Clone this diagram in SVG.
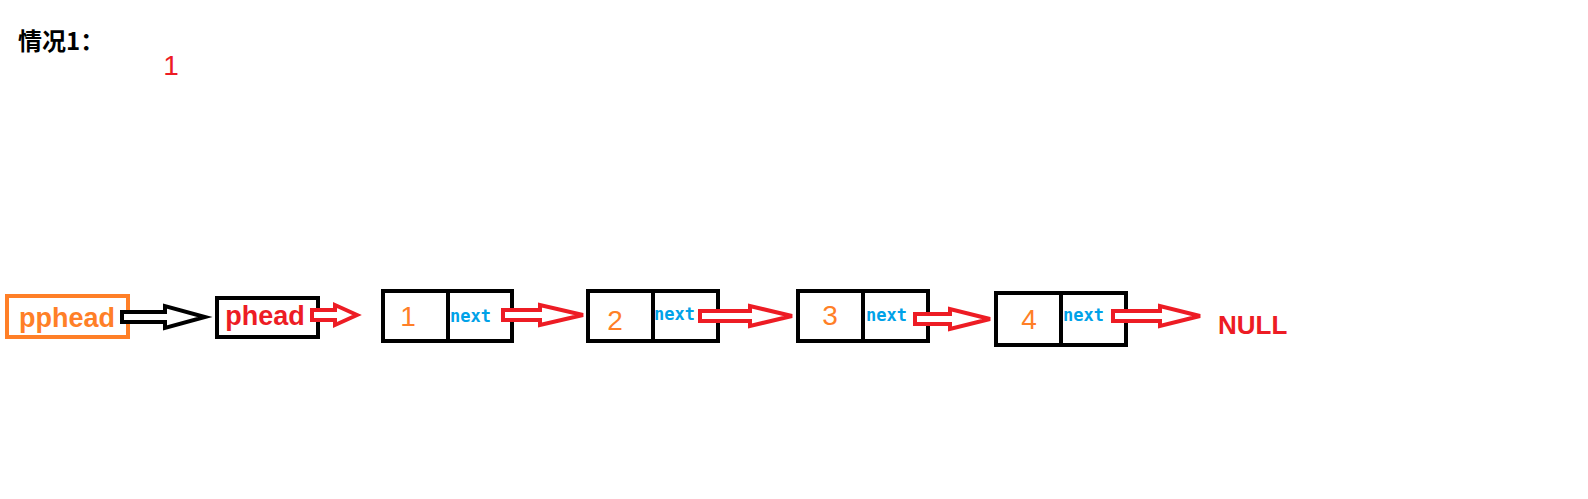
<svg xmlns="http://www.w3.org/2000/svg" width="1588" height="499" viewBox="0 0 1588 499">
<style>
.box{fill:none;stroke:#000;stroke-width:4}
.arr{fill:#fff;stroke:#ed1c24;stroke-width:4;stroke-linejoin:miter}
.num{fill:#ff7f27;font-family:"Liberation Sans",sans-serif;font-size:28px;text-anchor:middle}
.nx{fill:#00a2e8;font-family:"DejaVu Sans Mono",monospace;font-weight:bold;font-size:17px}
</style>
<rect width="1588" height="499" fill="#fff"/>
<text x="18" y="50" font-family="Noto Sans CJK SC,sans-serif" font-weight="bold" font-size="24" fill="#000">情况1：</text>
<text x="171" y="75" font-family="Liberation Sans,sans-serif" font-size="28" fill="#ed1c24" text-anchor="middle">1</text>
<g id="pphead"><rect x="7" y="296" width="121" height="41" fill="none" stroke="#ff7f27" stroke-width="4"/><text x="67" y="327" text-anchor="middle" font-family="Liberation Sans,sans-serif" font-weight="bold" font-size="27" fill="#ff7f27">pphead</text></g>
<g id="phead"><rect class="box" x="217" y="298" width="101" height="39"/><text x="265" y="325" text-anchor="middle" font-family="Liberation Sans,sans-serif" font-weight="bold" font-size="27" fill="#ed1c24">phead</text></g>
<g id="n1"><rect class="box" x="383" y="291" width="129" height="50"/><line class="box" x1="448" y1="291" x2="448" y2="341"/><text class="num" x="408" y="326">1</text><text class="nx" x="450" y="322">next</text></g>
<g id="n2"><rect class="box" x="588" y="291" width="130" height="50"/><line class="box" x1="653" y1="291" x2="653" y2="341"/><text class="num" x="615" y="330">2</text><text class="nx" x="654" y="320">next</text></g>
<g id="n3"><rect class="box" x="798" y="291" width="130" height="50"/><line class="box" x1="863" y1="291" x2="863" y2="341"/><text class="num" x="830" y="325">3</text><text class="nx" x="866" y="321">next</text></g>
<g id="n4"><rect class="box" x="996" y="293" width="130" height="52"/><line class="box" x1="1061" y1="293" x2="1061" y2="345"/><text class="num" x="1029" y="329">4</text><text class="nx" x="1063" y="321">next</text></g>
<text x="1218" y="334" font-family="Liberation Sans,sans-serif" font-weight="bold" font-size="26" fill="#ed1c24">NULL</text>
<g id="connectors">
<polygon points="122,312 165,312 165,306 205,317 165,328 165,322 122,322" fill="#fff" stroke="#000" stroke-width="4"/>
<polygon class="arr" points="312,310 335,310 335,305 357,315 335,325 335,320 312,320"/>
<polygon class="arr" points="503,310 540,310 540,305 583,315 540,325 540,320 503,320"/>
<polygon class="arr" points="700,311 750,311 750,306 792,316 750,326 750,321 700,321"/>
<polygon class="arr" points="915,314 950,314 950,309 990,319 950,329 950,324 915,324"/>
<polygon class="arr" points="1113,311 1160,311 1160,306 1200,316 1160,326 1160,321 1113,321"/>
</g>
</svg>
